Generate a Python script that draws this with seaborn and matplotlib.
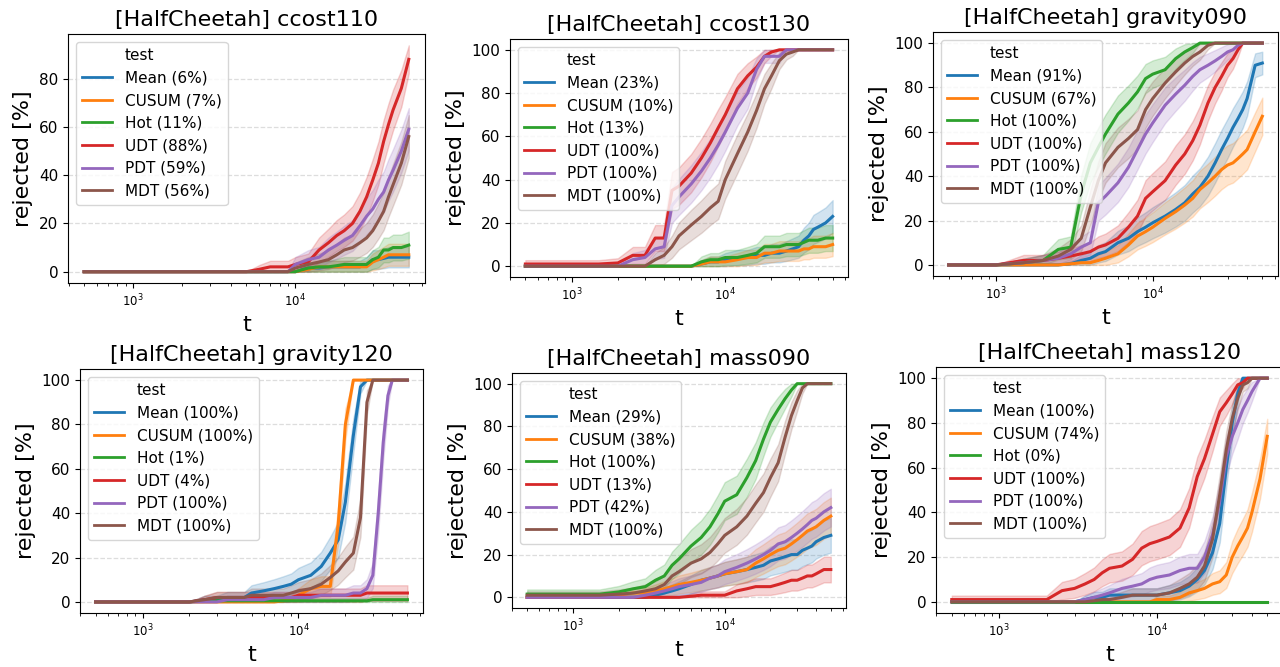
import numpy as np
import pandas as pd
import matplotlib
matplotlib.use("Agg")
import matplotlib.pyplot as plt
from matplotlib.lines import Line2D
import seaborn as sns

# detection tests and their colours (tab10)
tests = ["Mean", "CUSUM", "Hot", "UDT", "PDT", "MDT"]
colors = sns.color_palette("tab10", 6)

t_steps = [500, 1000, 1500, 2000, 2500, 3000, 3500, 4000, 4500, 5000,
           6000, 7000, 8000, 9000, 10000, 12000, 14000, 16000, 18000, 20000,
           22500, 25000, 27500, 30000, 32500, 35000, 37500, 40000, 45000, 50000]

# rejected [%] per test, order: Mean, CUSUM, Hot, UDT, PDT, MDT
ccost110 = [
    [0, 0, 0, 0, 0, 0, 0, 0, 0, 0, 0, 0, 0, 0, 0, 1.5, 1.5, 2, 2, 2, 2, 2, 3, 5, 5, 5.5, 6, 6, 6, 6],
    [0, 0, 0, 0, 0, 0, 0, 0, 0, 0, 0, 0, 0, 0, 0, 1, 2, 2, 2, 2, 2, 2, 2, 4, 5, 6, 7, 7, 7, 7],
    [0, 0, 0, 0, 0, 0, 0, 0, 0, 0, 0, 0, 0, 0, 0, 1.5, 2, 2, 2.5, 3, 3, 3, 3, 5, 6, 9, 9, 10, 10, 11],
    [0, 0, 0, 0, 0, 0, 0, 0, 0, 0, 1, 2, 2, 2, 3, 4, 9, 12, 15, 17, 20, 25, 31, 38, 45, 54, 61, 67, 76, 88],
    [0, 0, 0, 0, 0, 0, 0, 0, 0, 0, 0, 0, 0, 0, 3, 5, 6, 9, 11, 13, 15, 19, 23, 26, 30, 33, 38, 42, 50, 59],
    [0, 0, 0, 0, 0, 0, 0, 0, 0, 0, 0, 0, 0, 0, 1.5, 3, 4, 5, 7, 9, 10, 12, 14, 17, 21, 25, 31, 36, 45, 56],
]
ccost130 = [
    [0, 0, 0, 0, 0, 0, 0, 0, 0, 0, 0, 1, 2, 2, 3, 4, 4, 5, 5, 6, 6, 7, 8, 9, 12, 14, 17, 18, 20, 23],
    [0, 0, 0, 0, 0, 0, 0, 0, 0, 0, 0, 1, 2, 2, 2, 3, 4, 4, 6, 6, 7, 7, 7, 7, 8, 8, 9, 9, 9, 10],
    [0, 0, 0, 0, 0, 0, 0, 0, 0, 0, 0, 2, 3, 3, 4, 4, 5, 6, 9, 9, 9, 10, 10, 10, 11, 12, 12, 12, 13, 13],
    [1, 1, 1, 1.5, 5, 5, 13, 13, 35, 37, 43, 50, 57, 64, 70, 82, 88, 92, 97, 99, 100, 100, 100, 100, 100, 100, 100, 100, 100, 100],
    [0, 0, 0, 0, 3, 4, 8, 9, 28, 32, 38, 44, 50, 56, 62, 73, 80, 91, 97, 97, 97, 100, 100, 100, 100, 100, 100, 100, 100, 100],
    [0, 0, 0, 0, 0, 0, 3, 5, 9, 14, 19, 23, 27, 30, 40, 52, 62, 72, 82, 88, 95, 98, 99, 100, 100, 100, 100, 100, 100, 100],
]
gravity090 = [
    [0, 0, 0, 0, 0, 0.5, 2, 3, 5, 6, 10, 12, 15, 17, 19, 22, 25, 28, 32, 35, 40, 46, 52, 57, 62, 66, 70, 75, 90, 91],
    [0, 0, 0, 0, 0, 0.5, 1, 1, 2, 3, 5, 9, 13, 15, 17, 21, 24, 27, 30, 34, 37, 40, 43, 45, 46, 48, 50, 52, 60, 67],
    [0, 0, 1, 2, 7, 8, 32, 46, 53, 59, 68, 73, 78, 84, 86, 88, 93, 96, 98, 100, 100, 100, 100, 100, 100, 100, 100, 100, 100, 100],
    [0, 0, 2, 2, 3, 4, 5, 6, 8, 9, 12, 17, 22, 30, 33, 38, 45, 50, 56, 63, 73, 80, 85, 90, 93, 97, 100, 100, 100, 100],
    [0, 0, 1, 2, 3, 5, 8, 10, 28, 31, 37, 44, 52, 59, 64, 72, 77, 81, 85, 88, 90, 92, 94, 96, 97, 99, 100, 100, 100, 100],
    [0, 0, 1, 2, 4, 7, 12, 26, 38, 46, 53, 57, 61, 70, 75, 82, 87, 91, 94, 96, 99, 100, 100, 100, 100, 100, 100, 100, 100, 100],
]
gravity120 = [
    [0, 0, 0, 0, 1, 1, 2, 2, 2, 4, 5, 6, 7, 8, 10, 12, 16, 22, 28, 45, 75, 97, 100, 100, 100, 100, 100, 100, 100, 100],
    [0, 0, 0, 0, 0, 0, 0, 0, 0, 0, 0, 0, 0.5, 1, 3, 6, 7, 7, 35, 80, 100, 100, 100, 100, 100, 100, 100, 100, 100, 100],
    [0, 0, 0, 0, 0.5, 0.5, 0.5, 0.5, 0.5, 0.5, 0.5, 0.5, 0.5, 0.5, 0.5, 0.5, 0.5, 0.5, 0.5, 0.5, 0.5, 0.5, 0.5, 1, 1, 1, 1, 1, 1, 1],
    [0, 0, 0, 0, 1, 2, 2, 2, 2, 2, 2, 2, 2, 2, 3, 3, 3, 3, 3, 3, 3, 3, 4, 4, 4, 4, 4, 4, 4, 4],
    [0, 0, 0, 0, 0, 0, 1, 1, 1, 1, 1, 2, 2, 2, 2, 2, 3, 3, 3, 3, 4, 4, 6, 12, 40, 72, 93, 100, 100, 100],
    [0, 0, 0, 0, 1, 2, 2, 2, 2, 3, 3, 3, 3, 4, 5, 6, 8, 11, 14, 18, 22, 38, 90, 100, 100, 100, 100, 100, 100, 100],
]
mass090 = [
    [0, 0, 0, 0, 0, 0, 1, 2, 3, 4, 6, 8, 9, 10, 11, 12, 13, 14, 15, 17, 18, 19, 20, 20, 22, 23, 24, 26, 28, 29],
    [0, 0, 0, 1, 2, 2, 3, 4, 5, 6, 7, 8, 9, 10, 11, 12, 13, 16, 18, 20, 22, 23, 25, 27, 29, 31, 32, 33, 36, 38],
    [1.5, 1.5, 1.5, 2.5, 4, 5, 8, 10, 15, 18, 24, 28, 33, 39, 45, 48, 56, 64, 74, 82, 88, 93, 97, 100, 100, 100, 100, 100, 100, 100],
    [0, 0, 0, 0, 0, 0, 0, 0, 0, 0, 0.5, 1, 1, 1, 1, 3, 4, 5, 5, 5, 6, 7, 8, 8, 9, 10, 10, 11, 13, 13],
    [0, 0, 0, 0, 0, 1, 2, 3, 4, 5, 6, 7, 9, 10, 12, 14, 16, 18, 20, 22, 25, 26, 28, 30, 32, 34, 36, 37, 40, 42],
    [1, 1, 1, 1.5, 2, 3, 4, 6, 10, 12, 16, 18, 21, 25, 29, 33, 38, 44, 49, 56, 63, 75, 85, 92, 98, 100, 100, 100, 100, 100],
]
mass120 = [
    [0, 0, 0, 0, 0, 0, 1, 2, 2, 3, 3, 3, 3, 3, 3, 4, 5, 7, 10, 14, 22, 35, 60, 80, 93, 100, 100, 100, 100, 100],
    [0, 0, 0, 0, 0, 0, 0, 0, 0, 0, 0, 0, 0, 0, 1, 1, 2, 4, 5, 6, 8, 9, 12, 20, 25, 29, 33, 40, 55, 74],
    [0, 0, 0, 0, 0, 0, 0, 0, 0, 0, 0, 0, 0, 0, 0, 0, 0, 0, 0, 0, 0, 0, 0, 0, 0, 0, 0, 0, 0, 0],
    [1, 1, 1, 1, 5, 6, 8, 10, 13, 15, 16, 19, 24, 26, 27, 29, 33, 42, 56, 64, 75, 85, 89, 93, 97, 98, 100, 100, 100, 100],
    [0, 0, 0, 0, 0, 0, 1, 2, 3, 4, 6, 7, 8, 10, 11, 12, 14, 15, 15, 20, 30, 45, 65, 74, 80, 86, 90, 94, 100, 100],
    [0, 0, 0, 0, 0, 0, 0, 0.5, 1, 1, 2, 3, 3, 3, 3, 4, 6, 8, 11, 16, 28, 48, 68, 82, 91, 97, 98, 100, 100, 100],
]

panels = [("ccost110", ccost110), ("ccost130", ccost130), ("gravity090", gravity090),
          ("gravity120", gravity120), ("mass090", mass090), ("mass120", mass120)]

# number of runs behind each rate, used for the 95% band
n_runs = 120

# axes boxes in figure pixels: left, right, top, bottom
boxes = [(68, 425, 34, 283), (510, 848, 39, 277), (933, 1278, 32, 276),
         (80, 423, 369, 613), (512, 846, 373, 608), (936, 1283, 367, 613)]

W, H = 1280, 667
fig = plt.figure(figsize=(W / 100, H / 100), dpi=100)

for (name, values), (l, r, top, bot) in zip(panels, boxes):
    ax = fig.add_axes([l / W, 1 - bot / H, (r - l) / W, (bot - top) / H])
    ax.set_xscale("log")

    rows = []
    for test, vals in zip(tests, values):
        v = np.array(vals, dtype=float)
        p = v / 100
        half = 196 * np.sqrt(p * (1 - p) / n_runs)
        lo = np.clip(v - half, 0, 100)
        hi = np.clip(v + half, 0, 100)
        for t, a, b, c in zip(t_steps, lo, v, hi):
            rows += [(t, test, a), (t, test, b), (t, test, c)]
    df = pd.DataFrame(rows, columns=["t", "test", "rejected"])

    sns.lineplot(data=df, x="t", y="rejected", hue="test", hue_order=tests,
                 palette=colors, estimator="median",
                 errorbar=lambda s: (s.min(), s.max()),
                 linewidth=2.2, legend=False, ax=ax)

    ax.grid(axis="y", linestyle="--", color="#dddddd", linewidth=0.9)
    ax.set_axisbelow(True)
    ax.set_title(f"[HalfCheetah] {name}", fontsize=16)
    ax.set_xlabel("t", fontsize=16)
    ax.set_ylabel("rejected [%]", fontsize=16)
    ax.tick_params(axis="y", labelsize=11)
    ax.tick_params(axis="x", labelsize=8.5)

    handles = [Line2D([], [], color="none", label="test")]
    for test, vals, c in zip(tests, values, colors):
        handles.append(Line2D([], [], color=c, lw=2, label=f"{test} ({vals[-1]:.0f}%)"))
    ax.legend(handles=handles, loc="upper left", fontsize=11)

fig.savefig("out.png", dpi=100)
